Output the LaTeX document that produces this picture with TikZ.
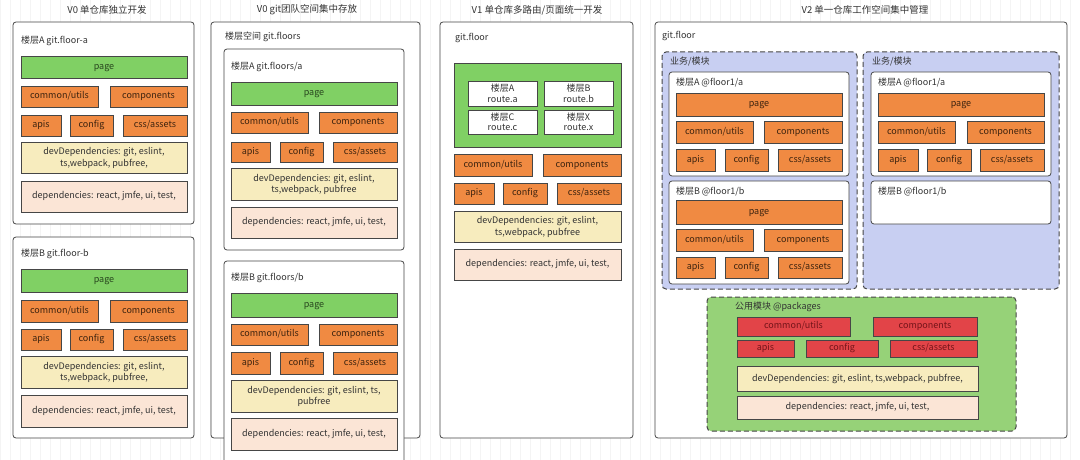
\documentclass[tikz,border=0pt]{standalone}
\usepackage{fontspec}
\setmainfont{Noto Sans CJK SC}
\definecolor{pgG}{RGB}{128,208,100}
\definecolor{pkG}{RGB}{150,210,120}
\definecolor{orgF}{RGB}{240,138,66}
\definecolor{yelF}{RGB}{247,236,190}
\definecolor{depF}{RGB}{251,229,214}
\definecolor{redF}{RGB}{226,68,72}
\definecolor{bluF}{RGB}{200,207,242}
\definecolor{bord}{RGB}{70,70,70}
\definecolor{txt}{RGB}{51,51,51}
\definecolor{txtG}{RGB}{40,70,30}
\definecolor{txtO}{RGB}{60,35,15}
\definecolor{txtR}{RGB}{115,20,25}
\definecolor{gridc}{RGB}{244,244,244}
\newcommand\mybox[7]{\node[#6, minimum width={(#4-#2)*1pt}, minimum height={(#5-#3)*1pt}] (#1) at ({(#2+#4)/2},{(#3+#5)/2}) {#7};}
\tikzset{
  base/.style={inner sep=0pt, outer sep=0pt, align=center, text=txt, font=\fontsize{9}{11.5}\selectfont},
  one/.style={text height=6.2pt, text depth=1.6pt},
  cont/.style={base, draw=bord, fill=white, line width=0.8pt, rounded corners=3pt},
  pg/.style={base, one, draw=bord, fill=pgG, line width=0.8pt, text=txtG},
  org/.style={base, one, draw=bord, fill=orgF, line width=0.8pt, text=txtO},
  redb/.style={base, one, draw=bord, fill=redF, line width=0.8pt, text=txtR},
  yel/.style={base, draw=bord, fill=yelF, line width=0.8pt, yshift=-0.6pt},
  dep/.style={base, one, draw=bord, fill=depF, line width=0.8pt},
  routeb/.style={base, draw=bord, fill=white, line width=0.7pt, font=\fontsize{9}{10.5}\selectfont},
  dblue/.style={base, draw=bord, fill=bluF, line width=1pt, dash pattern=on 5pt off 3pt, rounded corners=4pt},
  dgreen/.style={base, draw=bord, fill=pkG, line width=1pt, dash pattern=on 5pt off 3pt, rounded corners=4pt},
  lbl/.style={base, anchor=west},
  ttl/.style={base, font=\fontsize{9.5}{11}\selectfont},
}
\begin{document}
\begin{tikzpicture}[x=1pt,y=-1pt]
\useasboundingbox (0,0) rectangle (1080,460);
\clip (0,0) rectangle (1080,460);
\fill[white] (0,0) rectangle (1080,460);
\draw[gridc, line width=0.4pt, step=10] (0,0) grid (1080,460);

% ---------- Column 1 ----------
\node[ttl] (t1) at (107,10) {V0 单仓库独立开发};
\mybox{c1a}{13}{22}{194}{224}{cont}{}
\node[lbl] (c1al) at (21,41) {楼层A git.floor-a};
\mybox{c1ap}{21}{56}{187}{78}{pg}{page}
\mybox{c1acu}{21}{86}{98}{107}{org}{common/utils}
\mybox{c1aco}{110}{86}{187}{107}{org}{components}
\mybox{c1aap}{21}{115}{61}{136}{org}{apis}
\mybox{c1acf}{70}{115}{113}{136}{org}{config}
\mybox{c1acs}{123}{115}{187}{136}{org}{css/assets}
\mybox{c1adv}{21}{142}{187}{173}{yel}{devDependencies: git, eslint,\\ts,webpack, pubfree,}
\mybox{c1ade}{21}{181}{187}{212}{dep}{dependencies: react, jmfe, ui, test,}

\mybox{c1b}{13}{237}{194}{438}{cont}{}
\node[lbl] (c1bl) at (21,254) {楼层B git.floor-b};
\mybox{c1bp}{21}{269}{187}{292}{pg}{page}
\mybox{c1bcu}{21}{300}{98}{322}{org}{common/utils}
\mybox{c1bco}{110}{300}{187}{322}{org}{components}
\mybox{c1bap}{21}{329}{61}{350}{org}{apis}
\mybox{c1bcf}{70}{329}{113}{350}{org}{config}
\mybox{c1bcs}{123}{329}{187}{350}{org}{css/assets}
\mybox{c1bdv}{21}{356}{187}{388}{yel}{devDependencies: git, eslint,\\ts,webpack, pubfree,}
\mybox{c1bde}{21}{395}{187}{427}{dep}{dependencies: react, jmfe, ui, test,}

% ---------- Column 2 ----------
\node[ttl] (t2) at (307,10) {V0 git团队空间集中存放};
\mybox{c2}{211}{22}{420}{438}{cont}{}
\node[lbl] (c2l) at (225,37) {楼层空间 git.floors};
\mybox{c2a}{224}{49}{404}{250}{cont}{}
\node[lbl] (c2al) at (231,67) {楼层A git.floors/a};
\mybox{c2ap}{231}{82}{397}{105}{pg}{page}
\mybox{c2acu}{231}{112}{308}{133}{org}{common/utils}
\mybox{c2aco}{319}{112}{397}{133}{org}{components}
\mybox{c2aap}{231}{142}{270}{162}{org}{apis}
\mybox{c2acf}{280}{142}{323}{162}{org}{config}
\mybox{c2acs}{333}{142}{397}{162}{org}{css/assets}
\mybox{c2adv}{231}{168}{397}{200}{yel}{devDependencies: git, eslint,\\ts,webpack, pubfree}
\mybox{c2ade}{231}{207}{397}{238}{dep}{dependencies: react, jmfe, ui, test,}

\mybox{c2b}{224}{261}{404}{480}{cont}{}
\node[lbl] (c2bl) at (231,278) {楼层B git.floors/b};
\mybox{c2bp}{231}{293}{397}{317}{pg}{page}
\mybox{c2bcu}{231}{324}{308}{345}{org}{common/utils}
\mybox{c2bco}{319}{324}{397}{345}{org}{components}
\mybox{c2bap}{231}{352}{270}{374}{org}{apis}
\mybox{c2bcf}{280}{352}{323}{374}{org}{config}
\mybox{c2bcs}{333}{352}{397}{374}{org}{css/assets}
\mybox{c2bdv}{231}{380}{397}{412}{yel}{devDependencies: git, eslint, ts,\\pubfree}
\mybox{c2bde}{231}{418}{397}{450}{dep}{dependencies: react, jmfe, ui, test,}

% ---------- Column 3 ----------
\node[ttl] (t3) at (537,10) {V1 单仓库多路由/页面统一开发};
\mybox{c3}{440}{22}{633}{438}{cont}{}
\node[lbl] (c3l) at (455,38) {git.floor};
\mybox{c3g}{454}{63}{621}{147}{pg}{}
\mybox{c3ra}{468}{81}{537}{106}{routeb}{楼层A\\route.a}
\mybox{c3rb}{544}{81}{613}{106}{routeb}{楼层B\\route.b}
\mybox{c3rc}{468}{110}{537}{134}{routeb}{楼层C\\route.c}
\mybox{c3rx}{544}{110}{613}{134}{routeb}{楼层X\\route.x}
\mybox{c3cu}{454}{154}{532}{176}{org}{common/utils}
\mybox{c3co}{543}{154}{621}{176}{org}{components}
\mybox{c3ap}{454}{183}{494}{204}{org}{apis}
\mybox{c3cf}{503}{183}{547}{204}{org}{config}
\mybox{c3cs}{557}{183}{621}{204}{org}{css/assets}
\mybox{c3dv}{454}{211}{621}{242}{yel}{devDependencies: git, eslint,\\ts,webpack, pubfree}
\mybox{c3de}{454}{249}{621}{280}{dep}{dependencies: react, jmfe, ui, test,}

% ---------- Column 4 ----------
\node[ttl] (t4) at (865,10) {V2 单一仓库工作空间集中管理};
\mybox{c4}{655}{22}{1067}{438}{cont}{}
\node[lbl] (c4l) at (662,36) {git.floor};

\mybox{c4L}{662}{52}{857}{289}{dblue}{}
\node[lbl] (c4Ll) at (670,62) {业务/模块};
\mybox{c4La}{669}{72}{849}{176}{cont}{}
\node[lbl] (c4Lal) at (676,83) {楼层A @floor1/a};
\mybox{c4Lap}{676}{93}{842}{116}{org}{page}
\mybox{c4Lacu}{676}{121}{753}{143}{org}{common/utils}
\mybox{c4Laco}{764}{121}{842}{143}{org}{components}
\mybox{c4Laap}{676}{149}{715}{171}{org}{apis}
\mybox{c4Lacf}{725}{149}{768}{171}{org}{config}
\mybox{c4Lacs}{778}{149}{842}{171}{org}{css/assets}
\mybox{c4Lb}{669}{181}{849}{284}{cont}{}
\node[lbl] (c4Lbl) at (676,192) {楼层B @floor1/b};
\mybox{c4Lbp}{676}{200}{842}{224}{org}{page}
\mybox{c4Lbcu}{676}{229}{753}{251}{org}{common/utils}
\mybox{c4Lbco}{764}{229}{842}{251}{org}{components}
\mybox{c4Lbap}{676}{257}{715}{278}{org}{apis}
\mybox{c4Lbcf}{725}{257}{768}{278}{org}{config}
\mybox{c4Lbcs}{778}{257}{842}{278}{org}{css/assets}

\mybox{c4R}{863}{52}{1059}{289}{dblue}{}
\node[lbl] (c4Rl) at (872,62) {业务/模块};
\mybox{c4Ra}{871}{72}{1051}{176}{cont}{}
\node[lbl] (c4Ral) at (878,83) {楼层A @floor1/a};
\mybox{c4Rap}{878}{93}{1044}{116}{org}{page}
\mybox{c4Racu}{878}{121}{955}{143}{org}{common/utils}
\mybox{c4Raco}{967}{121}{1044}{143}{org}{components}
\mybox{c4Raap}{878}{149}{918}{171}{org}{apis}
\mybox{c4Racf}{927}{149}{971}{171}{org}{config}
\mybox{c4Racs}{980}{149}{1044}{171}{org}{css/assets}
\mybox{c4Rb}{871}{181}{1051}{224}{cont}{}
\node[lbl] (c4Rbl) at (878,192) {楼层B @floor1/b};

\mybox{c4P}{707}{297}{1016}{431}{dgreen}{}
\node[lbl] (c4Pl) at (735,307) {公用模块 @packages};
\mybox{c4Pcu}{737}{317}{850}{336}{redb}{common/utils}
\mybox{c4Pco}{873}{317}{977}{336}{redb}{components}
\mybox{c4Pap}{737}{340}{794}{357}{redb}{apis}
\mybox{c4Pcf}{806}{340}{878}{357}{redb}{config}
\mybox{c4Pcs}{890}{340}{977}{357}{redb}{css/assets}
\mybox{c4Pdv}{737}{366}{978}{391}{yel}{devDependencies: git, eslint, ts,webpack, pubfree,}
\mybox{c4Pde}{737}{396}{978}{419}{dep}{dependencies: react, jmfe, ui, test,}
\end{tikzpicture}
\end{document}
